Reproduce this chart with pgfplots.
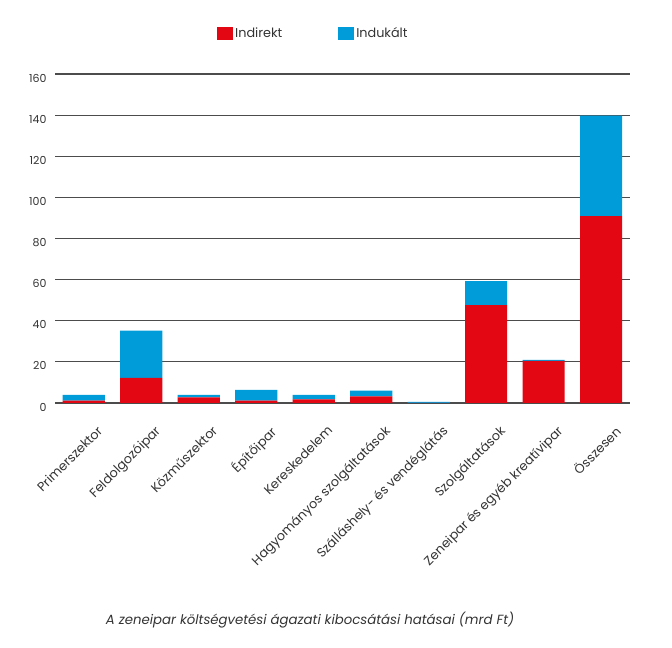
\documentclass[border=0pt]{standalone}
\usepackage{fontspec}
\setmainfont{Poppins}
\usepackage{pgfplots}
\pgfplotsset{compat=1.18}
\definecolor{cred}{HTML}{E30613}
\definecolor{cblue}{HTML}{009CDA}
\definecolor{txt}{HTML}{333333}
\begin{document}
\begin{tikzpicture}
\useasboundingbox (0,0) rectangle (672bp,648bp);
\begin{axis}[
  at={(55bp,245bp)}, anchor=south west,
  scale only axis, width=575bp, height=329bp,
  xmin=-0.5, xmax=9.5, ymin=0, ymax=160,
  ybar stacked, bar width=42bp,
  ytick={0,20,...,160},
  ymajorgrids, grid style={black!70, line width=1.2bp},
  axis line style={draw=none}, major tick style={draw=none},
  xtick={0,...,9},
  xticklabels={Primerszektor,Feldolgozóipar,Közműszektor,Építőipar,Kereskedelem,Hagyományos szolgáltatások,Szálláshely- és vendéglátás,Szolgáltatások,Zeneipar és egyéb kreatívipar,Összesen},
  xticklabel style={rotate=45, anchor=north east, font=\fontsize{12.8bp}{14bp}\selectfont, text=txt, xshift=-3bp, yshift=-21bp},
  yticklabel style={font=\fontsize{11bp}{13bp}\selectfont, text=txt, yshift=-4bp, xshift=-5bp},
  /pgf/number format/assume math mode=true,
  legend style={at={(0.2765,1.1226)}, anchor=west, draw=none, fill=none,
    legend columns=2, font=\fontsize{12.8bp}{14bp}\selectfont, text=txt,
    /tikz/every even column/.append style={column sep=54bp}},
  legend image code/.code={\fill[#1,draw=none] (0bp,-6.5bp) rectangle (16bp,6.5bp);},
]
\addplot[fill=cred, draw=none] coordinates {(0,1.2) (1,12.2) (2,2.7) (3,1.1) (4,1.8) (5,3.2) (6,0.1) (7,47.6) (8,20.5) (9,90.9)};
\addlegendentry{Indirekt}
\addplot[fill=cblue, draw=none] coordinates {(0,2.8) (1,23.0) (2,1.3) (3,5.3) (4,2.2) (5,2.8) (6,0.5) (7,11.7) (8,0.5) (9,48.8)};
\addlegendentry{Indukált}
\end{axis}
\node[font=\itshape\fontsize{13.3bp}{15bp}\selectfont, text=txt] at (310bp,28bp) {A zeneipar költségvetési ágazati kibocsátási hatásai (mrd Ft)};
\end{tikzpicture}
\end{document}
